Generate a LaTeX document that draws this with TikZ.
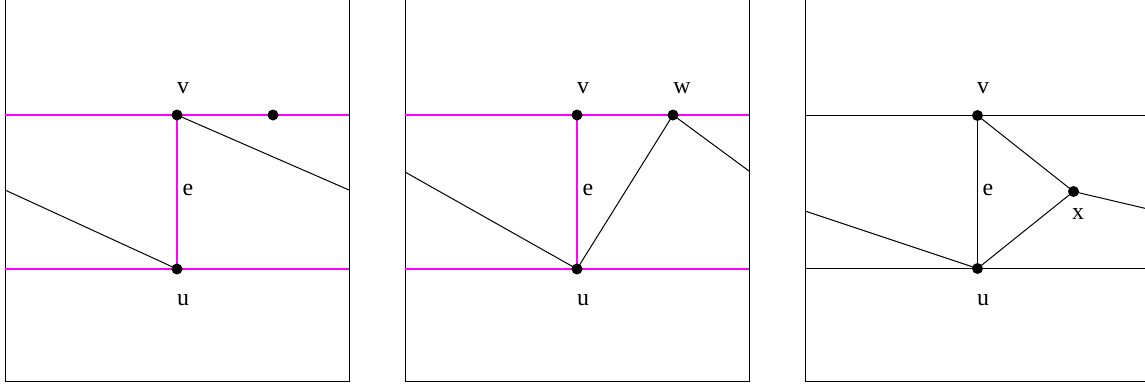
\documentclass[tikz,border=0pt]{standalone}
\usepackage{fontspec}
\setmainfont{Liberation Serif}
\usetikzlibrary{positioning}
\definecolor{cutpink}{HTML}{FF00FF}
\tikzset{
  vtx/.style={circle,fill=black,inner sep=0pt,minimum size=11bp},
  lbl/.style={inner sep=0pt,font=\fontsize{24}{28}\selectfont},
  frame/.style={draw=black,line width=1bp},
  cutline/.style={draw=cutpink,line width=1.5bp},
  edgeline/.style={draw=black,line width=1bp}
}
\begin{document}
\begin{tikzpicture}[x=1bp,y=-1bp]
    \path[use as bounding box] (0,0) rectangle (1145,385);
    \clip (0,0) rectangle (1145,385);

    % left panel
    \draw[frame] (5.5,-5) -- (5.5,381.5) -- (349.5,381.5) -- (349.5,-5);
    \coordinate (a1) at (5,115);   \coordinate (b1) at (349,115);
    \coordinate (c1) at (5,269);   \coordinate (d1) at (349,269);
    \coordinate (l1) at (5,190);   \coordinate (r1) at (349,190);
    \coordinate (v1) at (177,115);
    \coordinate (u1) at (177,269);
    \coordinate (p1) at (273,115);
    \draw[cutline] (a1) -- (b1);
    \draw[cutline] (c1) -- (d1);
    \draw[cutline] (v1) -- (u1);
    \draw[edgeline] (v1) -- (r1);
    \draw[edgeline] (l1) -- (u1);
    \foreach \p in {v1,u1,p1} \node[vtx] at (\p) {};
    \node[lbl] (v1lbl) at (183,88) {v};
    \node[lbl] (e1lbl) at (188,190) {e};
    \node[lbl] (u1lbl) at (183,300) {u};

    % middle panel
    \draw[frame] (405.5,-5) -- (405.5,381.5) -- (749.5,381.5) -- (749.5,-5);
    \coordinate (a2) at (405,115); \coordinate (b2) at (749,115);
    \coordinate (c2) at (405,269); \coordinate (d2) at (749,269);
    \coordinate (l2) at (405,172); \coordinate (r2) at (749,171);
    \coordinate (v2) at (577,115);
    \coordinate (u2) at (577,269);
    \coordinate (w2) at (673,115);
    \draw[cutline] (a2) -- (b2);
    \draw[cutline] (c2) -- (d2);
    \draw[cutline] (v2) -- (u2);
    \draw[edgeline] (l2) -- (u2);
    \draw[edgeline] (u2) -- (w2);
    \draw[edgeline] (w2) -- (r2);
    \foreach \p in {v2,u2,w2} \node[vtx] at (\p) {};
    \node[lbl] (v2lbl) at (583,88) {v};
    \node[lbl] (w2lbl) at (682,88) {w};
    \node[lbl] (e2lbl) at (588,190) {e};
    \node[lbl] (u2lbl) at (583,300) {u};

    % right panel
    \draw[frame] (805.5,-5) -- (805.5,381.5) -- (1150,381.5);
    \coordinate (a3) at (805,115.5); \coordinate (b3) at (1150,115.5);
    \coordinate (c3) at (805,268.5); \coordinate (d3) at (1150,268.5);
    \coordinate (l3) at (805,211);   \coordinate (r3) at (1150,209.5);
    \coordinate (v3) at (977.5,115.5);
    \coordinate (u3) at (977.5,268.5);
    \coordinate (x3) at (1073.5,191.5);
    \draw[edgeline] (a3) -- (b3);
    \draw[edgeline] (c3) -- (d3);
    \draw[edgeline] (v3) -- (u3);
    \draw[edgeline] (v3) -- (x3);
    \draw[edgeline] (u3) -- (x3);
    \draw[edgeline] (l3) -- (u3);
    \draw[edgeline] (x3) -- (r3);
    \foreach \p in {v3,u3,x3} \node[vtx] at (\p) {};
    \node[lbl] (v3lbl) at (983,88) {v};
    \node[lbl] (e3lbl) at (988,190) {e};
    \node[lbl] (u3lbl) at (983,300) {u};
    \node[lbl] (x3lbl) at (1078,214) {x};
\end{tikzpicture}
\end{document}
